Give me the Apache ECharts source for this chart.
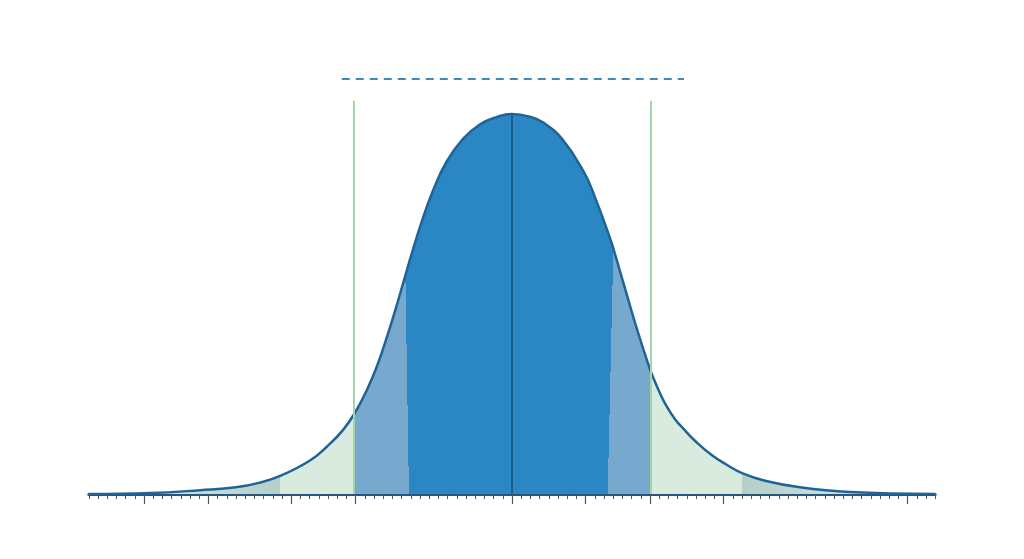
<!DOCTYPE html>
<html>
<head>
<meta charset="utf-8">
<script src="https://cdn.jsdelivr.net/npm/echarts@6/dist/echarts.min.js"></script>
<style>
  html, body { margin: 0; padding: 0; background: #fff; }
  #chart { width: 1024px; height: 559px; }
</style>
</head>
<body>
<div id="chart"></div>
<script>
// curve (x in sigma units, y density)
const curveX = [-4.6, -3.93, -3.39, -3.0, -2.74, -2.52, -2.20, -2.01, -1.84, -1.71, -1.58, -1.47, -1.36, -1.27,
  -1.18, -1.09, -0.98, -0.86, -0.71, -0.53, -0.35, -0.16, 0, 0.20, 0.34, 0.55, 0.78, 0.88, 1.07, 1.13,
  1.28, 1.37, 1.48, 1.52, 1.60, 1.66, 1.77, 1.88, 2.0, 2.17, 2.33, 2.50, 2.75, 3.13, 3.67, 4.6]
const curveY = [0.000, 0.001, 0.004, 0.007, 0.012, 0.019, 0.035, 0.050, 0.067, 0.085, 0.109, 0.134, 0.165, 0.193,
  0.223, 0.253, 0.287, 0.319, 0.350, 0.374, 0.389, 0.397, 0.400, 0.397, 0.391, 0.373, 0.339, 0.318, 0.268, 0.249,
  0.199, 0.170, 0.137, 0.126, 0.108, 0.096, 0.079, 0.067, 0.055, 0.041, 0.031, 0.022, 0.014, 0.007, 0.002, 0.000]

// band edges: tail | light green | light blue | ... | light blue | light green | tail
const bandEdges = [-2.52, -1.72, 1.51, 2.50]
// dark band edges are slightly slanted: [top x, top y] -> [bottom x, 0]
const darkLeftEdge = [[-1.16, 0.236], [-1.12, 0]]
const darkRightEdge = [[1.10, 0.252], [1.04, 0]]
const greenLines = [-1.72, 1.51]
const greenTop = 0.414
const meanX = 0
const peakY = 0.400
const dashedRange = [-1.85, 1.87]
const dashedY = 0.437
const majorTicks = [-4.0, -3.3, -2.4, -1.7, 0, 0.8, 1.5, 2.3, 4.3]

const xMin = -4.6
const xMax = 4.6

const chart = echarts.init(document.getElementById('chart'))

const curve = curveX.map((x, i) => [x, curveY[i]])
const leftHalf = curve.filter(p => p[0] <= meanX)
const rightHalf = curve.filter(p => p[0] >= meanX)
const frac = v => (v - xMin) / (xMax - xMin)

const cTail = '#b4cec8'
const cTailFade = '#e6efec'
const cGreen = '#d9ebdf'
const cLight = '#77a9cf'
const cDark = '#2a87c3'
const clear = 'rgba(42,135,195,0)'

const baseFill = new echarts.graphic.LinearGradient(0, 0, 1, 0, [
  { offset: 0, color: cTailFade },
  { offset: frac(bandEdges[0]), color: cTail },
  { offset: frac(bandEdges[0]), color: cGreen },
  { offset: frac(bandEdges[1]), color: cGreen },
  { offset: frac(bandEdges[1]), color: cLight },
  { offset: frac(bandEdges[2]), color: cLight },
  { offset: frac(bandEdges[2]), color: cGreen },
  { offset: frac(bandEdges[3]), color: cGreen },
  { offset: frac(bandEdges[3]), color: cTail },
  { offset: 1, color: cTailFade }
])

const smoothOpts = { smooth: 0.45, smoothConstraint: false, symbol: 'none' }

const option = {
  animation: false,
  backgroundColor: '#ffffff',
  grid: { left: 88.8, right: 88.8, top: 66.5, bottom: 65 },
  xAxis: [
    {
      type: 'value',
      min: xMin,
      max: xMax,
      interval: 0.1,
      axisLine: { show: true, lineStyle: { color: '#22577f', width: 3 } },
      axisTick: { show: true, length: 5, lineStyle: { color: '#555', width: 1 } },
      axisLabel: { show: false },
      splitLine: { show: false }
    },
    {
      type: 'value',
      min: xMin,
      max: xMax,
      position: 'bottom',
      axisLine: { show: false },
      axisTick: { show: true, length: 10, customValues: majorTicks, lineStyle: { color: '#555', width: 1.2 } },
      axisLabel: { show: false },
      splitLine: { show: false }
    }
  ],
  yAxis: {
    type: 'value',
    min: 0,
    max: 0.45,
    show: false
  },
  series: [
    Object.assign({
      id: 'base',
      type: 'line',
      data: curve,
      lineStyle: { width: 0 },
      areaStyle: { color: baseFill, opacity: 1 },
      z: 1
    }, smoothOpts),
    Object.assign({
      id: 'darkLeft',
      type: 'line',
      data: leftHalf,
      lineStyle: { width: 0 },
      areaStyle: { color: cDark, opacity: 1 },
      z: 2
    }, smoothOpts),
    Object.assign({
      id: 'darkRight',
      type: 'line',
      data: rightHalf,
      lineStyle: { width: 0 },
      areaStyle: { color: cDark, opacity: 1 },
      z: 2
    }, smoothOpts),
    {
      type: 'line',
      data: [],
      symbol: 'none',
      z: 3,
      markLine: {
        silent: true,
        symbol: 'none',
        label: { show: false },
        data: [
          [{ coord: [greenLines[0], 0], lineStyle: { color: '#a3d6a6', width: 2, type: 'solid' } },
            { coord: [greenLines[0], greenTop] }],
          [{ coord: [greenLines[1], 0], lineStyle: { color: '#a3d6a6', width: 2, type: 'solid' } },
            { coord: [greenLines[1], greenTop] }],
          [{ coord: [meanX, 0], lineStyle: { color: '#1d5d8c', width: 2, type: 'solid' } },
            { coord: [meanX, peakY] }],
          [{ coord: [dashedRange[0], dashedY], lineStyle: { color: '#3f8cbc', width: 2, type: [8, 6] } },
            { coord: [dashedRange[1], dashedY] }]
        ]
      }
    },
    Object.assign({
      type: 'line',
      data: curve,
      lineStyle: { color: '#1f6496', width: 2.5 },
      z: 4
    }, smoothOpts)
  ]
}

chart.setOption(option)

// slanted edge of the dark band: a sharp gradient laid across the edge line
function edgeGradient (edge, darkOnRight) {
  const a = chart.convertToPixel({ gridIndex: 0 }, edge[0])
  const b = chart.convertToPixel({ gridIndex: 0 }, edge[1])
  const dx = b[0] - a[0]
  const dy = b[1] - a[1]
  const len = Math.sqrt(dx * dx + dy * dy)
  const nx = dy / len
  const ny = -dx / len
  const stops = darkOnRight
    ? [{ offset: 0, color: clear }, { offset: 0.5, color: clear }, { offset: 0.5, color: cDark }, { offset: 1, color: cDark }]
    : [{ offset: 0, color: cDark }, { offset: 0.5, color: cDark }, { offset: 0.5, color: clear }, { offset: 1, color: clear }]
  return new echarts.graphic.LinearGradient(a[0] - nx, a[1] - ny, a[0] + nx, a[1] + ny, stops, true)
}

chart.setOption({
  series: [
    { id: 'darkLeft', areaStyle: { color: edgeGradient(darkLeftEdge, true) } },
    { id: 'darkRight', areaStyle: { color: edgeGradient(darkRightEdge, false) } }
  ]
})
</script>
</body>
</html>
